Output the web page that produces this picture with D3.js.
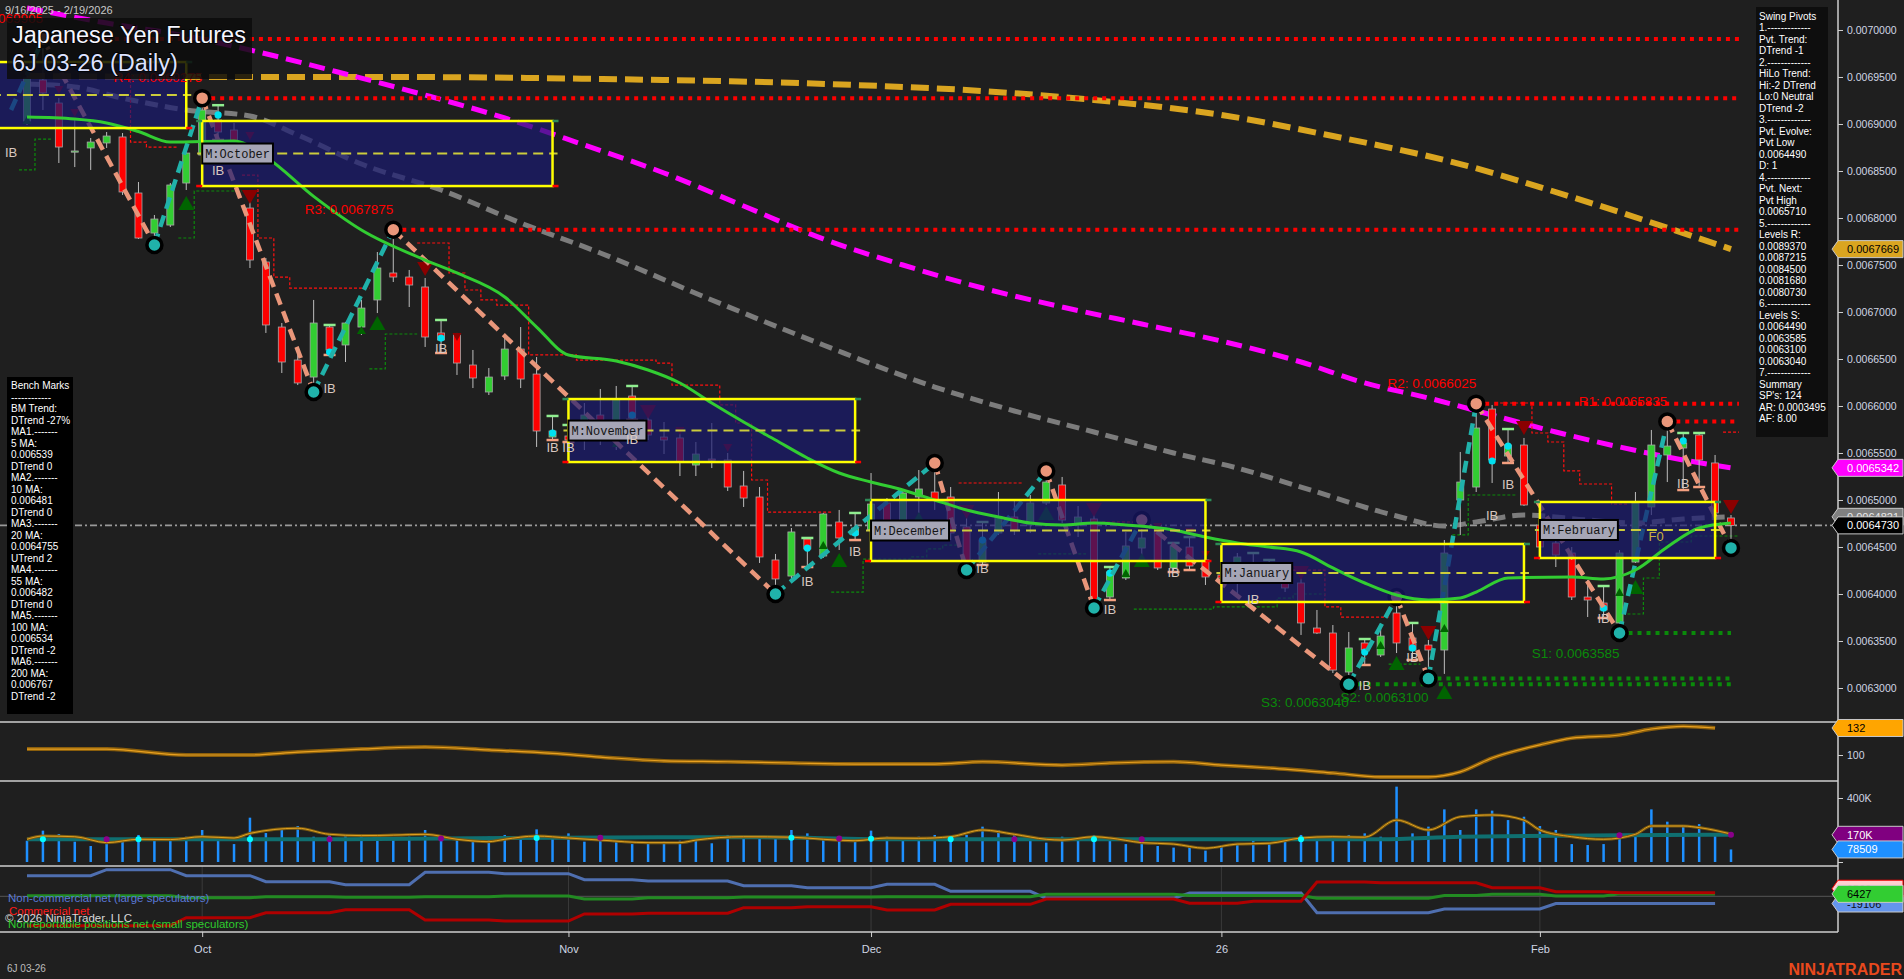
<!DOCTYPE html>
<html><head><meta charset="utf-8">
<script src="https://cdn.jsdelivr.net/npm/d3@7/dist/d3.min.js"></script>
<style>
html,body{margin:0;padding:0;background:#1f1f1f;overflow:hidden;}
svg{display:block;font-family:"Liberation Sans",Arial,sans-serif;}
</style></head><body>
<svg id="chart" width="1904" height="979"></svg>
<script>
// ---------------- categories ----------------
const holidays = ["2025-11-27","2025-12-25","2026-01-01","2026-01-19","2026-02-16"];
const fmtDay = d3.utcFormat("%Y-%m-%d");
const dates = d3.utcDays(new Date(Date.UTC(2025,8,16)), new Date(Date.UTC(2026,1,20)))
  .filter(d => d.getUTCDay() !== 0 && d.getUTCDay() !== 6 && !holidays.includes(fmtDay(d)))
  .map(fmtDay);
const monthTickDates = ["2025-10-01","2025-11-03","2025-12-01","2026-01-02","2026-02-02"];
const monthTickLabels = ["Oct","Nov","Dec","26","Feb"];
const priceTicks = d3.range(126,141).map(k => k*0.00005);

// ---------------- OHLC ----------------
const opens = [
0.0069032,0.0069468,0.0069223,0.0068702,0.0068745,0.0068798,0.0068862,0.0068266,0.0067840,0.0067925,
0.0068372,0.0068670,0.0069042,0.0068936,0.0068106,0.0067532,0.0066840,0.0066489,0.0066308,0.0066840,
0.0066649,0.0066840,0.0067128,0.0067415,0.0067372,0.0067266,0.0066777,0.0066755,0.0066436,0.0066149,
0.0066319,0.0066606,0.0066340,0.0065670,0.0065681,0.0065691,0.0065904,0.0065670,0.0066106,0.0065851,
0.0065670,0.0065660,0.0065372,0.0065436,0.0065426,0.0065149,0.0065032,0.0064362,0.0064191,0.0064585,
0.0064404,0.0064766,0.0064628,0.0064681,0.0064968,0.0064755,0.0065032,0.0065085,0.0065032,0.0064713,
0.0064340,0.0064649,0.0064819,0.0064734,0.0064968,0.0065160,0.0064734,0.0064798,0.0063968,0.0064170,
0.0064489,0.0064713,0.0064277,0.0064500,0.0064362,0.0064202,0.0064170,0.0064309,0.0064245,0.0064234,
0.0064117,0.0063638,0.0063585,0.0063170,0.0063479,0.0063351,0.0063798,0.0063532,0.0063457,0.0063404,
0.0065000,0.0065138,0.0065968,0.0065468,0.0065585,0.0064734,0.0064543,0.0064436,0.0063968,0.0063904,
0.0063692,0.0064340,0.0064926,0.0065479,0.0065553,0.0065691,0.0065394,0.0064809];
const highs = [
0.0069596,0.0069905,0.0069276,0.0069042,0.0068851,0.0068915,0.0068904,0.0068383,0.0068032,0.0068372,
0.0068766,0.0069275,0.0069200,0.0069011,0.0068191,0.0067574,0.0066883,0.0066596,0.0067128,0.0066862,
0.0066894,0.0067128,0.0067638,0.0067875,0.0067447,0.0067362,0.0066915,0.0066777,0.0066596,0.0066404,
0.0066734,0.0066840,0.0066521,0.0065894,0.0065798,0.0066032,0.0066181,0.0066213,0.0066213,0.0065979,
0.0065830,0.0065766,0.0065617,0.0065819,0.0065500,0.0065309,0.0065138,0.0064426,0.0064702,0.0064596,
0.0064862,0.0064894,0.0064862,0.0065287,0.0065021,0.0065085,0.0065319,0.0065394,0.0065138,0.0064947,
0.0064766,0.0065085,0.0065000,0.0065053,0.0065309,0.0065245,0.0064936,0.0064840,0.0064287,0.0064660,
0.0064787,0.0064755,0.0064543,0.0064606,0.0064436,0.0064309,0.0064436,0.0064436,0.0064362,0.0064309,
0.0064255,0.0063830,0.0063670,0.0063596,0.0063521,0.0063649,0.0063968,0.0063692,0.0063511,0.0064574,
0.0065511,0.0066025,0.0066011,0.0065755,0.0065660,0.0064947,0.0064660,0.0064500,0.0064149,0.0064085,
0.0064468,0.0065085,0.0065745,0.0065835,0.0065713,0.0065713,0.0065479,0.0064840];
const lows = [
0.0068989,0.0069149,0.0068585,0.0068542,0.0068511,0.0068745,0.0068245,0.0067777,0.0067713,0.0067904,
0.0068298,0.0068617,0.0068830,0.0068755,0.0067468,0.0066777,0.0066351,0.0066223,0.0066149,0.0066543,
0.0066468,0.0066755,0.0066989,0.0067319,0.0067053,0.0066628,0.0066564,0.0066330,0.0066191,0.0066117,
0.0066277,0.0066191,0.0065564,0.0065638,0.0065617,0.0065532,0.0065585,0.0065532,0.0065851,0.0065638,
0.0065489,0.0065255,0.0065255,0.0065340,0.0065096,0.0064926,0.0064330,0.0064000,0.0064149,0.0064287,
0.0064383,0.0064468,0.0064574,0.0064649,0.0064649,0.0064681,0.0064862,0.0064894,0.0064574,0.0064255,
0.0064309,0.0064628,0.0064628,0.0064649,0.0064947,0.0064755,0.0064606,0.0063851,0.0063936,0.0064149,
0.0064394,0.0064255,0.0064234,0.0064255,0.0064096,0.0064043,0.0063968,0.0064149,0.0064149,0.0064021,
0.0063564,0.0063574,0.0063160,0.0063040,0.0063245,0.0063330,0.0063372,0.0063298,0.0063100,0.0063150,
0.0064628,0.0065085,0.0065181,0.0065394,0.0064936,0.0064447,0.0064287,0.0063936,0.0063755,0.0063745,
0.0063585,0.0064330,0.0064840,0.0065191,0.0065106,0.0065138,0.0064787,0.0064490];
const closes = [
0.0069489,0.0069330,0.0068755,0.0068713,0.0068808,0.0068872,0.0068277,0.0067787,0.0067989,0.0068351,
0.0068691,0.0069149,0.0068915,0.0068808,0.0067553,0.0066862,0.0066468,0.0066245,0.0066883,0.0066596,
0.0066883,0.0067042,0.0067468,0.0067372,0.0067287,0.0066734,0.0066702,0.0066457,0.0066298,0.0066308,
0.0066606,0.0066287,0.0065734,0.0065734,0.0065638,0.0065904,0.0065670,0.0066074,0.0065872,0.0065691,
0.0065638,0.0065404,0.0065489,0.0065426,0.0065138,0.0065021,0.0064394,0.0064160,0.0064660,0.0064479,
0.0064851,0.0064596,0.0064702,0.0064957,0.0064681,0.0065074,0.0065117,0.0065000,0.0064649,0.0064330,
0.0064574,0.0064819,0.0064681,0.0064968,0.0065191,0.0064787,0.0064819,0.0063936,0.0064234,0.0064511,
0.0064596,0.0064277,0.0064511,0.0064298,0.0064181,0.0064170,0.0064394,0.0064181,0.0064181,0.0064064,
0.0063692,0.0063585,0.0063191,0.0063426,0.0063404,0.0063553,0.0063479,0.0063404,0.0063404,0.0064436,
0.0065191,0.0065766,0.0065426,0.0065585,0.0064947,0.0064500,0.0064415,0.0063968,0.0063936,0.0063830,
0.0064436,0.0064968,0.0065585,0.0065574,0.0065606,0.0065426,0.0064862,0.0064730];
const lastPrice = 0.0064730;

// ---------------- moving averages (bar index, value) ----------------
const ma200 = [[0,0.0069511],[11,0.0069500],[23,0.0069500],[36,0.0069479],[52,0.0069415],[60,0.0069351],[67,0.0069255],[75,0.0069096],[82,0.0068872],[90,0.0068574],[97,0.0068223],[107,0.0067669]];
const ma100 = [[0,0.0070234],[5,0.0070074],[10,0.0069936],[14,0.0069787],[20,0.0069532],[25,0.0069308],[30,0.0069064],[35,0.0068776],[40,0.0068479],[45,0.0068128],[50,0.0067777],[55,0.0067500],[60,0.0067255],[65,0.0067053],[70,0.0066872],[75,0.0066691],[80,0.0066468],[84,0.0066245],[88,0.0066085],[92,0.0065904],[96,0.0065723],[100,0.0065564],[104,0.0065426],[107,0.0065342]];
const ma55 = [[0,0.0069425],[3,0.0069394],[6,0.0069276],[10,0.0069149],[14,0.0069085],[17,0.0068883],[21,0.0068574],[26,0.0068298],[31,0.0067947],[36,0.0067628],[43,0.0067128],[50,0.0066649],[57,0.0066202],[62,0.0065947],[67,0.0065723],[72,0.0065500],[76,0.0065340],[80,0.0065138],[86,0.0064830],[89,0.0064723],[91,0.0064766],[94,0.0064840],[98,0.0064787],[101,0.0064755],[104,0.0064798],[107,0.0064821]];
const ma20 = [[0,0.0069074],[3,0.0069053],[5,0.0069011],[7,0.0068920],[9,0.0068808],[13,0.0068819],[15,0.0068649],[18,0.0068230],[21,0.0067872],[25,0.0067553],[27,0.0067415],[30,0.0067160],[32,0.0066840],[34,0.0066543],[37,0.0066479],[39,0.0066383],[41,0.0066245],[43,0.0066032],[45,0.0065830],[47,0.0065638],[49,0.0065447],[51,0.0065287],[53,0.0065191],[55,0.0065106],[57,0.0065000],[59,0.0064894],[61,0.0064819],[63,0.0064755],[65,0.0064734],[67,0.0064755],[69,0.0064734],[72,0.0064681],[74,0.0064606],[76,0.0064543],[78,0.0064500],[80,0.0064447],[82,0.0064277],[84,0.0064117],[86,0.0063989],[88,0.0063936],[90,0.0063957],[91,0.0064021],[93,0.0064170],[97,0.0064181],[99,0.0064160],[101,0.0064255],[103,0.0064500],[105,0.0064702],[107,0.0064755]];

// ---------------- swing pivots ----------------
const pivots = [[-1,0.0069149,"L"],[1,0.0069905,"H"],[8,0.0067713,"L"],[11,0.0069275,"H"],[18,0.0066149,"L"],[23,0.0067875,"H"],[47,0.0064000,"L"],[57,0.0065394,"H"],[59,0.0064255,"L"],[64,0.0065309,"H"],[67,0.0063851,"L"],[70,0.0064787,"H"],[83,0.0063040,"L"],[86,0.0063968,"H"],[88,0.0063100,"L"],[91,0.0066025,"H"],[100,0.0063585,"L"],[103,0.0065835,"H"],[107,0.0064490,"L"]];
const levelNames = ["R5","R4","R3","R2","R1","S1","S2","S3"];
const levelValues = [0.0069905,0.0069275,0.0067875,0.0066025,0.0065835,0.0063585,0.0063100,0.0063040];
const levelFrom = [1,11,23,91,103,100,88,83];

// ---------------- monthly boxes ----------------
const monthLabels = ["M:September","M:October","M:November","M:December","M:January","M:February"];
const monthStart = [-12,11,34,53,75,95];
const monthEnd = [10,33,52,74,94,106];
const monthHigh = [0.0069659,0.0069032,0.0066074,0.0065000,0.0064532,0.0064979];
const monthLow = [0.0068957,0.0068340,0.0065404,0.0064351,0.0063915,0.0064383];

// ---------------- trailing step lines ----------------
const redSteps = [
 [[6.5,0.0069574],[6.5,0.0068808],[7.5,0.0068808],[7.5,0.0068755],[9.5,0.0068755]],
 [[13.5,0.0068457],[14.5,0.0068457],[14.5,0.0067787],[15.5,0.0067787],[15.5,0.0067372],[16.5,0.0067372],[16.5,0.0067255],[21.5,0.0067255]],
 [[24.5,0.0067734],[26.5,0.0067734],[26.5,0.0067415],[27.5,0.0067415],[27.5,0.0067234],[28.5,0.0067234],[28.5,0.0067128],[29.5,0.0067128],[29.5,0.0067074],[31.5,0.0067074],[31.5,0.0066543],[34.5,0.0066543],[34.5,0.0066489],[39.5,0.0066489],[39.5,0.0066457],[40.5,0.0066457],[40.5,0.0066223],[43.5,0.0066223],[43.5,0.0066011],[44.5,0.0066011],[44.5,0.0065819],[45.5,0.0065819],[45.5,0.0065213],[46.5,0.0065213],[46.5,0.0064872],[50.5,0.0064872]],
 [[58.5,0.0065181],[62.5,0.0065181]],
 [[67.5,0.0064766],[70.5,0.0064766]],
 [[79.5,0.0064255],[81.5,0.0064255],[81.5,0.0063862],[82.5,0.0063862],[82.5,0.0063755],[85.5,0.0063755]],
 [[92.5,0.0066032],[94.5,0.0066032],[94.5,0.0065713],[95.5,0.0065713],[95.5,0.0065617],[96.5,0.0065617],[96.5,0.0065309],[97.5,0.0065309],[97.5,0.0065170],[99.5,0.0065170],[99.5,0.0064957],[100.5,0.0064957]],
 [[106.5,0.0065723],[107.5,0.0065723]]];
const greenSteps = [
 [[-0.5,0.0068511],[0.5,0.0068511],[0.5,0.0068840],[1.5,0.0068840]],
 [[9.5,0.0067787],[10.5,0.0067787],[10.5,0.0068287],[13.5,0.0068287]],
 [[21.5,0.0066394],[22.5,0.0066394],[22.5,0.0066766],[24.5,0.0066766]],
 [[50.5,0.0064021],[52.5,0.0064021],[52.5,0.0064372],[55.5,0.0064372],[55.5,0.0064394],[56.5,0.0064394],[56.5,0.0064479],[57.5,0.0064479],[57.5,0.0064521],[58.5,0.0064521]],
 [[63.5,0.0064426],[66.5,0.0064426]],
 [[69.5,0.0063840],[74.5,0.0063840],[74.5,0.0063862],[78.5,0.0063862],[78.5,0.0063957],[79.5,0.0063957],[79.5,0.0064000],[81.5,0.0064000]],
 [[85.5,0.0063255],[87.5,0.0063255]],
 [[89.5,0.0064628],[90.5,0.0064628],[90.5,0.0065053],[93.5,0.0065053]],
 [[100.5,0.0063787],[101.5,0.0063787],[101.5,0.0064170],[102.5,0.0064170],[102.5,0.0064553],[104.5,0.0064553],[104.5,0.0064617],[107.5,0.0064617]]];

// ---------------- markers ----------------
const ibBars = [12,19,26,33,34,38,49,52,60,68,72,73,77,78,84,87,93,99,104,105];
const cyanDots = [[12,0.0069096],[19,0.0066574],[26,0.0066723],[33,0.0065713],[38,0.0065904],[49,0.0064489],[52,0.0064649],[60,0.0064574],[68,0.0064223],[84,0.0063383],[87,0.0063426],[92,0.0065415],[93,0.0065574],[99,0.0063851],[104,0.0065628]];
const ibLabels = [[-1,0.0068702],[12,0.0068511],[19,0.0066191],[26,0.0066617],[33,0.0065564],[34,0.0065564],[38,0.0065649],[49,0.0064138],[52,0.0064457],[60,0.0064277],[68,0.0063840],[72,0.0064234],[77,0.0063947],[84,0.0063032],[87,0.0063330],[92,0.0064840],[93,0.0065170],[99,0.0063745],[104,0.0065181]];
const upTriangles = [[0,0.0069042,0],[8,0.0067681,0],[10,0.0068160,1],[21,0.0066809,0],[22,0.0066883,1],[37,0.0065606,0],[50,0.0064521,0],[51,0.0064362,1],[56,0.0064830,0],[64,0.0064862,1],[69,0.0064223,0],[70,0.0064362,1],[83,0.0063053,0],[85,0.0063457,0],[86,0.0063266,1],[89,0.0063638,0],[89,0.0062957,1],[100,0.0064021,0],[101,0.0064074,1]];
const downTriangles = [[2,0.0069362,0],[3,0.0069117,0],[14,0.0068872,0],[14,0.0068223,1],[25,0.0067457,1],[27,0.0066734,0],[39,0.0065936,1],[41,0.0065734,0],[44,0.0065553,0],[59,0.0064872,1],[67,0.0064894,1],[71,0.0064713,0],[73,0.0064660,0],[74,0.0064415,0],[80,0.0064223,1],[88,0.0063585,1],[94,0.0065766,1],[107,0.0064926,1]];
const fLabel = [102.3,0.0064617,"F0"];

// ---------------- oscillator / volume / COT ----------------
const oscKnots = [[0,107],[5,107],[10,100],[14,100],[17,103.5],[21,107],[25,109.5],[29,106],[33,102],[36,97.6],[40,93],[44,92],[48,90.5],[52,89.3],[57,89.3],[60,92],[65,88],[68,90.5],[72,92],[75,88],[78,84.6],[82,78.7],[85,74],[88,74],[90,80],[92,96.4],[95,112],[97,120],[100,123.7],[102,130.8],[104,134],[106,132]];
const volumes = [
133000,196000,175000,127000,100000,112000,150000,169000,144000,133000,
158000,200000,158000,112000,277000,181000,210000,225000,158000,169000,
162000,158000,169000,137000,158000,200000,154000,137000,127000,158000,
169000,158000,204000,158000,179000,127000,148000,127000,112000,121000,
127000,133000,142000,117000,169000,148000,158000,154000,200000,179000,
148000,158000,148000,196000,158000,137000,158000,169000,148000,169000,
221000,200000,169000,148000,121000,158000,142000,169000,133000,112000,
133000,100000,90000,100000,71000,106000,112000,142000,112000,127000,
169000,148000,158000,169000,179000,158000,471000,179000,221000,329000,
200000,329000,321000,262000,283000,225000,200000,112000,106000,112000,
154000,169000,329000,252000,225000,237000,180000,78509];
const volOrange = [[0,142000],[1,162000],[3,158000],[5,121000],[7,142000],[9,140000],[11,158000],[13,150000],[14,179000],[17,211000],[19,173000],[21,165000],[23,168000],[25,173000],[27,142000],[29,127000],[30,142000],[32,162000],[34,150000],[36,137000],[39,121000],[41,121000],[42,137000],[45,158000],[48,155000],[50,142000],[52,133000],[54,150000],[56,148000],[58,158000],[60,200000],[62,173000],[64,142000],[65,137000],[67,158000],[68,150000],[70,121000],[72,112000],[74,86000],[76,112000],[78,117000],[80,150000],[82,158000],[84,155000],[86,262000],[88,200000],[90,283000],[92,294000],[94,262000],[95,200000],[97,158000],[99,142000],[101,173000],[102,225000],[104,225000],[105,215000],[107,175000]];
const volTeal = [[0,142000],[20,142000],[30,150000],[45,155000],[55,142000],[70,142000],[85,142000],[90,158000],[100,167000],[107,170000]];
const volCyanDots = [1,7,14,32,48,53,58,67,80];
const volPurpleDots = [5,19,26,36,51,62,70,100,107];
const cotWeeks = [0,5,10,15,20,25,30,35,39,45,49,54,58,64,69,73,77,81,85,89,92,96,100];
const nonCommercial = [54600,70500,54600,38700,30700,63600,59900,44000,40500,28100,22800,31800,13300,-5300,-5300,8700,8700,-43500,-43500,-33700,-33700,-19106,-19106];
const commercial = [-77900,-77900,-56700,-43500,-35500,-62800,-65500,-46900,-45000,-30200,-27600,-36300,-21200,-7200,-7200,-18600,-13300,37900,36000,36000,22800,12200,9500];
const nonReportable = [1600,1600,-3700,-1000,-2500,-1000,500,-7000,-4000,-2000,-2000,-1000,-1000,5300,5300,2000,2000,-5300,-5300,2000,5300,1000,6427];

// ---------------- text panels ----------------
const benchLines = ["Bench Marks","------------","BM Trend:","DTrend -27%","MA1.-------","5 MA:","0.006539","DTrend 0","MA2.-------","10 MA:","0.006481","DTrend 0","MA3.-------","20 MA:","0.0064755","UTrend 2","MA4.-------","55 MA:","0.006482","DTrend 0","MA5.-------","100 MA:","0.006534","DTrend -2","MA6.-------","200 MA:","0.006767","DTrend -2"];
const pivotLines = ["Swing Pivots","1.-------------","Pvt. Trend:","DTrend -1","2.-------------","HiLo Trend:","Hi:-2 DTrend","Lo:0 Neutral","DTrend -2","3.-------------","Pvt. Evolve:","Pvt Low","0.0064490","D: 1","4.-------------","Pvt. Next:","Pvt High","0.0065710","5.-------------","Levels R:","0.0089370","0.0087215","0.0084500","0.0081680","0.0080730","6.-------------","Levels S:","0.0064490","0.0063585","0.0063100","0.0063040","7.-------------","Summary","SP's: 124","AR: 0.0003495","AF: 8.00"];

// =============== drawing ===============
const W = 1904, H = 979, AX = 1838;
const svg = d3.select("#chart");
svg.append("rect").attr("width", W).attr("height", H).attr("fill", "#1f1f1f");
const defs = svg.append("defs");
function clip(id, y0, h){ defs.append("clipPath").attr("id", id).append("rect").attr("x",0).attr("y",y0).attr("width",AX).attr("height",h); }
clip("cMain",0,722); clip("cOsc",722,59); clip("cVol",781,85); clip("cCot",866,66);

const x = d3.scaleLinear().domain([0, dates.length-1]).range([27, 1731]);
const y = d3.scaleLinear().domain([0.00626383, 0.00703191]).range([722, 0]);
const yOsc = d3.scaleLinear().domain([69.2, 139.1]).range([781, 722]);
const yVol = d3.scaleLinear().domain([0, 400000]).range([862, 798]);
const yCot = d3.scaleLinear().domain([-100000, 100000]).range([934.03, 858.57]);

const lin = d3.line().x(d => x(d[0])).y(d => y(d[1]));
const smooth = d3.line().x(d => x(d[0])).y(d => y(d[1])).curve(d3.curveMonotoneX);

const main = svg.append("g").attr("clip-path","url(#cMain)");

main.append("line").attr("x1",0).attr("x2",AX).attr("y1",y(lastPrice)).attr("y2",y(lastPrice))
  .attr("stroke","#9a9a9a").attr("stroke-width",1.6).attr("stroke-dasharray","7,3,2,3");

main.append("path").attr("d", smooth(ma200)).attr("fill","none").attr("stroke","#daa520").attr("stroke-width",6).attr("stroke-dasharray","18,8");
main.append("path").attr("d", smooth(ma100)).attr("fill","none").attr("stroke","#ff00ff").attr("stroke-width",5).attr("stroke-dasharray","16,8");
main.append("path").attr("d", smooth(ma55)).attr("fill","none").attr("stroke","#7c7c7c").attr("stroke-width",5).attr("stroke-dasharray","13,7");

levelNames.forEach((n,i) => {
  const isR = n[0] === "R";
  const end = isR ? 107.5 : 107;
  main.append("line").attr("x1", x(levelFrom[i])).attr("x2", x(end))
    .attr("y1", y(levelValues[i])).attr("y2", y(levelValues[i]))
    .attr("stroke", isR ? "#ff0000" : "#0a8a0a").attr("stroke-width", 4).attr("stroke-dasharray","4,5");
});

redSteps.forEach(s => main.append("path").attr("d", lin(s)).attr("fill","none").attr("stroke","#ff1010").attr("stroke-width",1.2).attr("stroke-dasharray","3,2"));
greenSteps.forEach(s => main.append("path").attr("d", lin(s)).attr("fill","none").attr("stroke","#0c8a0c").attr("stroke-width",1.2).attr("stroke-dasharray","3,2"));

const bars = d3.range(dates.length);
main.append("g").selectAll("line").data(bars).join("line")
  .attr("x1", i => x(i)).attr("x2", i => x(i)).attr("y1", i => y(highs[i])).attr("y2", i => y(lows[i]))
  .attr("stroke","#bdbdbd").attr("stroke-width",1);
main.append("g").selectAll("rect").data(bars).join("rect")
  .attr("x", i => x(i)-3.5).attr("width", 7)
  .attr("y", i => y(Math.max(opens[i], closes[i])))
  .attr("height", i => Math.max(1.2, Math.abs(y(opens[i]) - y(closes[i]))))
  .attr("fill", i => closes[i] >= opens[i] ? "#32cd32" : "#ff0000")
  .attr("stroke","#a8a8a8").attr("stroke-width",0.8);

main.append("g").selectAll("line").data(ibBars).join("line")
  .attr("x1", i => x(i)-6).attr("x2", i => x(i)+6).attr("y1", i => y(highs[i])).attr("y2", i => y(highs[i]))
  .attr("stroke","#90ee90").attr("stroke-width",2.5);
main.append("g").selectAll("line").data(ibBars).join("line")
  .attr("x1", i => x(i)-6).attr("x2", i => x(i)+6).attr("y1", i => y(lows[i])).attr("y2", i => y(lows[i]))
  .attr("stroke","#f4a080").attr("stroke-width",2.5);
main.append("g").selectAll("circle").data(cyanDots).join("circle")
  .attr("cx", d => x(d[0])).attr("cy", d => y(d[1])).attr("r",3.6).attr("fill","#00e0f0");

const triUp = (cx, cy, s) => { const w = s ? 8 : 4.5, h = s ? 14 : 8; return `M${cx},${cy-h/2}L${cx+w},${cy+h/2}L${cx-w},${cy+h/2}Z`; };
const triDn = (cx, cy, s) => { const w = s ? 8 : 4.5, h = s ? 14 : 8; return `M${cx},${cy+h/2}L${cx+w},${cy-h/2}L${cx-w},${cy-h/2}Z`; };
main.append("g").selectAll("path").data(upTriangles).join("path").attr("d", d => triUp(x(d[0]), y(d[1]), d[2])).attr("fill","#006400");
main.append("g").selectAll("path").data(downTriangles).join("path").attr("d", d => triDn(x(d[0]), y(d[1]), d[2])).attr("fill","#8b0000");

main.append("g").selectAll("line").data(d3.pairs(pivots)).join("line")
  .attr("x1", d => x(d[0][0])).attr("y1", d => y(d[0][1])).attr("x2", d => x(d[1][0])).attr("y2", d => y(d[1][1]))
  .attr("stroke", d => d[1][2] === "H" ? "#20b2aa" : "#e9967a").attr("stroke-width",4.5).attr("stroke-dasharray","12,7");
main.append("g").selectAll("circle").data(pivots.filter(p => p[0] >= 0)).join("circle")
  .attr("cx", d => x(d[0])).attr("cy", d => y(d[1])).attr("r",7.5)
  .attr("fill", d => d[2] === "H" ? "#e9967a" : "#20b2aa").attr("stroke","#000").attr("stroke-width",3.5);

const mIdx = d3.range(monthLabels.length);
main.append("g").selectAll("rect").data(mIdx).join("rect")
  .attr("x", i => x(monthStart[i])).attr("width", i => x(monthEnd[i]) - x(monthStart[i]))
  .attr("y", i => y(monthHigh[i])).attr("height", i => y(monthLow[i]) - y(monthHigh[i]))
  .attr("fill","#191970").attr("fill-opacity",0.7);

main.append("path").attr("d", smooth(ma20)).attr("fill","none").attr("stroke","#32cd32").attr("stroke-width",3);

const bg = main.append("g");
mIdx.forEach(i => {
  const x0 = x(monthStart[i]), x1 = x(monthEnd[i]), yt = y(monthHigh[i]), yb = y(monthLow[i]);
  const ym = y((monthHigh[i] + monthLow[i]) / 2);
  bg.append("line").attr("x1", x0-5).attr("x2", x1+5).attr("y1", ym).attr("y2", ym)
    .attr("stroke","#cccc3c").attr("stroke-width",2).attr("stroke-dasharray","10,6");
  bg.append("rect").attr("x", x0).attr("y", yt).attr("width", x1-x0).attr("height", yb-yt)
    .attr("fill","none").attr("stroke","#ffff00").attr("stroke-width",2.5);
  [[x0-6,x0,yt,"#2e8b57"],[x1,x1+6,yt,"#2e8b57"],[x0-6,x0,yb,"#ff0000"],[x1,x1+6,yb,"#ff0000"]].forEach(c =>
    bg.append("line").attr("x1",c[0]).attr("x2",c[1]).attr("y1",c[2]).attr("y2",c[2]).attr("stroke",c[3]).attr("stroke-width",2.5));
  if (x0 >= 0) {
    const lw = monthLabels[i].length * 7.2 + 6;
    bg.append("rect").attr("x", x0).attr("y", ym-10).attr("width", lw).attr("height", 20)
      .attr("fill","#a6a6b6").attr("stroke","#000").attr("stroke-width",2);
    bg.append("text").attr("x", x0+3).attr("y", ym+4.5).text(monthLabels[i])
      .attr("font-family","'Liberation Mono','Courier New',monospace").attr("font-size",12).attr("fill","#151515");
  }
});

main.append("g").selectAll("text").data(ibLabels).join("text")
  .attr("x", d => x(d[0])).attr("y", d => y(d[1]) + 5).attr("text-anchor","middle")
  .attr("font-size",13).attr("fill","#d8c8c0").text("IB");
main.append("text").attr("x", x(fLabel[0])).attr("y", y(fLabel[1]) + 5).attr("text-anchor","middle")
  .attr("font-size",13).attr("fill","#c8b040").text(fLabel[2]);

levelNames.forEach((n,i) => {
  const isR = n[0] === "R";
  main.append("text").attr("x", x(levelFrom[i])).attr("y", y(levelValues[i]) + (isR ? -16 : (n==="S1"?25:23)))
    .attr("text-anchor","end").attr("font-size",13.5).attr("fill", isR ? "#ff0000" : "#0a8a0a")
    .text(`${n}: ${levelValues[i].toFixed(7)}`);
});

svg.append("text").attr("x",5).attr("y",14).attr("font-size",11).attr("fill","#c8c8c8").text("9/16/2025 - 2/19/2026");
svg.append("rect").attr("x",7).attr("y",18).attr("width",245).attr("height",61).attr("fill","#0c0c0c").attr("fill-opacity",0.85);
svg.append("text").attr("x",12).attr("y",43).attr("font-size",23.5).attr("fill","#f6f6ff")
  .attr("stroke","#000").attr("stroke-width",1.5).attr("paint-order","stroke").text("Japanese Yen Futures");
svg.append("text").attr("x",12).attr("y",71).attr("font-size",23.5).attr("fill","#dde2ff")
  .attr("stroke","#000").attr("stroke-width",1.5).attr("paint-order","stroke").text("6J 03-26 (Daily)");

const osc = svg.append("g").attr("clip-path","url(#cOsc)");
const oscLine = d3.line().x(d => x(d[0])).y(d => yOsc(d[1])).curve(d3.curveMonotoneX);
osc.append("path").attr("d", oscLine(oscKnots)).attr("fill","none").attr("stroke","#8a5e0c").attr("stroke-width",4);
osc.append("path").attr("d", oscLine(oscKnots)).attr("fill","none").attr("stroke","#e8a020").attr("stroke-width",1.2);

const vol = svg.append("g").attr("clip-path","url(#cVol)");
vol.append("g").selectAll("rect").data(bars).join("rect")
  .attr("x", i => x(i)-1.25).attr("width",2.5).attr("y", i => yVol(volumes[i])).attr("height", i => yVol(0) - yVol(volumes[i]))
  .attr("fill","#1e90ff");
const vLine = d3.line().x(d => x(d[0])).y(d => yVol(d[1])).curve(d3.curveMonotoneX);
vol.append("path").attr("d", vLine(volTeal)).attr("fill","none").attr("stroke","#0f6f70").attr("stroke-width",4);
vol.append("path").attr("d", vLine(volOrange)).attr("fill","none").attr("stroke","#7a5a10").attr("stroke-width",3);
vol.append("path").attr("d", vLine(volOrange)).attr("fill","none").attr("stroke","#e0a020").attr("stroke-width",1);
const tealAt = d3.scaleLinear().domain(volTeal.map(d => d[0])).range(volTeal.map(d => d[1]));
vol.append("g").selectAll("circle").data(volCyanDots).join("circle").attr("cx", i => x(i)).attr("cy", i => yVol(tealAt(i))).attr("r",3).attr("fill","#00ffff");
vol.append("g").selectAll("circle").data(volPurpleDots).join("circle").attr("cx", i => x(i)).attr("cy", i => yVol(tealAt(i))).attr("r",3).attr("fill","#8b008b");

const cot = svg.append("g").attr("clip-path","url(#cCot)");
monthTickDates.forEach(d => cot.append("line").attr("x1", x(dates.indexOf(d))).attr("x2", x(dates.indexOf(d))).attr("y1",866).attr("y2",932).attr("stroke","#3a3a3a"));
cot.append("line").attr("x1",0).attr("x2",AX).attr("y1",yCot(0)).attr("y2",yCot(0)).attr("stroke","#4a4a4a").attr("stroke-width",1.2);
function cotPoints(vals){ const pts=[]; vals.forEach((v,i)=>{ pts.push([cotWeeks[i],v]); pts.push([i<vals.length-1?cotWeeks[i+1]-1:106,v]); }); return pts; }
const cLine = d3.line().x(d => x(d[0])).y(d => yCot(d[1]));
cot.append("path").attr("d", cLine(cotPoints(nonCommercial))).attr("fill","none").attr("stroke","#4f6fb0").attr("stroke-width",3);
cot.append("path").attr("d", cLine(cotPoints(nonReportable))).attr("fill","none").attr("stroke","#228b22").attr("stroke-width",3);
cot.append("path").attr("d", cLine(cotPoints(commercial))).attr("fill","none").attr("stroke","#b00000").attr("stroke-width",3);
svg.append("text").attr("x",8).attr("y",902).attr("font-size",11.5).attr("fill","#5a7ad8").text("Non-commercial net (large speculators)");
svg.append("text").attr("x",9).attr("y",915).attr("font-size",11.5).attr("fill","#ff1a1a").text("Commercial net");
svg.append("text").attr("x",5).attr("y",922).attr("font-size",11.5).attr("fill","#d8d8d8").text("© 2026 NinjaTrader, LLC");
svg.append("text").attr("x",8).attr("y",928).attr("font-size",11.5).attr("fill","#2ecc2e").text("Nonreportable positions net (small speculators)");

[722,781,866,932].forEach(v => svg.append("line").attr("x1",0).attr("x2",AX).attr("y1",v).attr("y2",v).attr("stroke","#cfcfcf").attr("stroke-width",1.5));
svg.append("line").attr("x1",AX).attr("x2",AX).attr("y1",0).attr("y2",932).attr("stroke","#cfcfcf").attr("stroke-width",1.5);

function styleAxis(g){ g.select(".domain").remove(); g.selectAll("line").attr("stroke","#cfcfcf"); g.selectAll("text").attr("fill","#d0d6e4").attr("font-size",10.5).attr("font-family","'Liberation Sans',Arial,sans-serif"); }
svg.append("g").attr("transform",`translate(${AX},0)`).call(d3.axisRight(y).tickValues(priceTicks).tickFormat(d3.format(".7f")).tickSize(5).tickPadding(4)).call(styleAxis);
svg.append("g").attr("transform",`translate(${AX},0)`).call(d3.axisRight(yOsc).tickValues([100]).tickSize(5).tickPadding(4)).call(styleAxis);
svg.append("g").attr("transform",`translate(${AX},0)`).call(d3.axisRight(yVol).tickValues([0,400000]).tickFormat(v => v ? (v/1000)+"K" : "").tickSize(5).tickPadding(4)).call(styleAxis);
svg.append("g").attr("transform","translate(0,932)")
  .call(d3.axisBottom(x).tickValues(monthTickDates.map(d => dates.indexOf(d))).tickFormat((d,i) => monthTickLabels[i]).tickSize(5).tickPadding(8))
  .call(styleAxis).selectAll("text").attr("font-size",11);

function tag(yy, label, fill, txt, stroke){
  const g = svg.append("g");
  g.append("path").attr("d", `M${AX-6},${yy}L${AX},${yy-8.5}L1903,${yy-8.5}L1903,${yy+8.5}L${AX},${yy+8.5}Z`)
    .attr("fill", fill).attr("stroke", stroke || "#c8c8c8").attr("stroke-width",1);
  g.append("text").attr("x", AX+9).attr("y", yy+4).attr("font-size",11).attr("fill", txt).text(label);
}
const f7 = d3.format(".7f");
tag(y(ma200[ma200.length-1][1]), f7(ma200[ma200.length-1][1]), "#daa520", "#000");
tag(y(ma100[ma100.length-1][1]), f7(ma100[ma100.length-1][1]), "#ff00ff", "#fff");
tag(y(ma55[ma55.length-1][1]), f7(ma55[ma55.length-1][1]), "#808080", "#e8e8e8");
tag(y(lastPrice), f7(lastPrice), "#000", "#fff");
tag(yOsc(oscKnots[oscKnots.length-1][1]), String(oscKnots[oscKnots.length-1][1]), "#ffa500", "#000");
tag(yVol(volTeal[volTeal.length-1][1]), (volTeal[volTeal.length-1][1]/1000)+"K", "#800080", "#fff");
tag(yVol(volumes[volumes.length-1]), String(volumes[volumes.length-1]), "#1e90ff", "#fff");
tag(yCot(nonCommercial[nonCommercial.length-1]), String(nonCommercial[nonCommercial.length-1]), "#6495ed", "#111");
tag(yCot(commercial[commercial.length-1]) - 4, String(commercial[commercial.length-1]), "#ffd0d0", "#900", "#ff0000");
tag(yCot(nonReportable[nonReportable.length-1]), String(nonReportable[nonReportable.length-1]), "#32cd32", "#000");

svg.append("rect").attr("x",7).attr("y",377).attr("width",66).attr("height",337).attr("fill","#000");
svg.append("g").selectAll("text").data(benchLines).join("text")
  .attr("x",11).attr("y",(d,i) => 389 + i*11.5).attr("font-size",10).attr("fill","#ffffff").text(d => d);
svg.append("rect").attr("x",1756).attr("y",7).attr("width",72).attr("height",430).attr("fill","#0e0e0e");
svg.append("g").selectAll("text").data(pivotLines).join("text")
  .attr("x",1759).attr("y",(d,i) => 19.5 + i*11.5).attr("font-size",10).attr("fill","#ffffff").text(d => d);

svg.append("text").attr("x",7).attr("y",972).attr("font-size",10).attr("fill","#bdbdbd").text("6J 03-26");
svg.append("text").attr("x",1902).attr("y",975).attr("text-anchor","end").attr("font-size",16).attr("font-weight","bold")
  .attr("fill","#e8491d").text("NINJATRADER");
</script>
</body></html>
